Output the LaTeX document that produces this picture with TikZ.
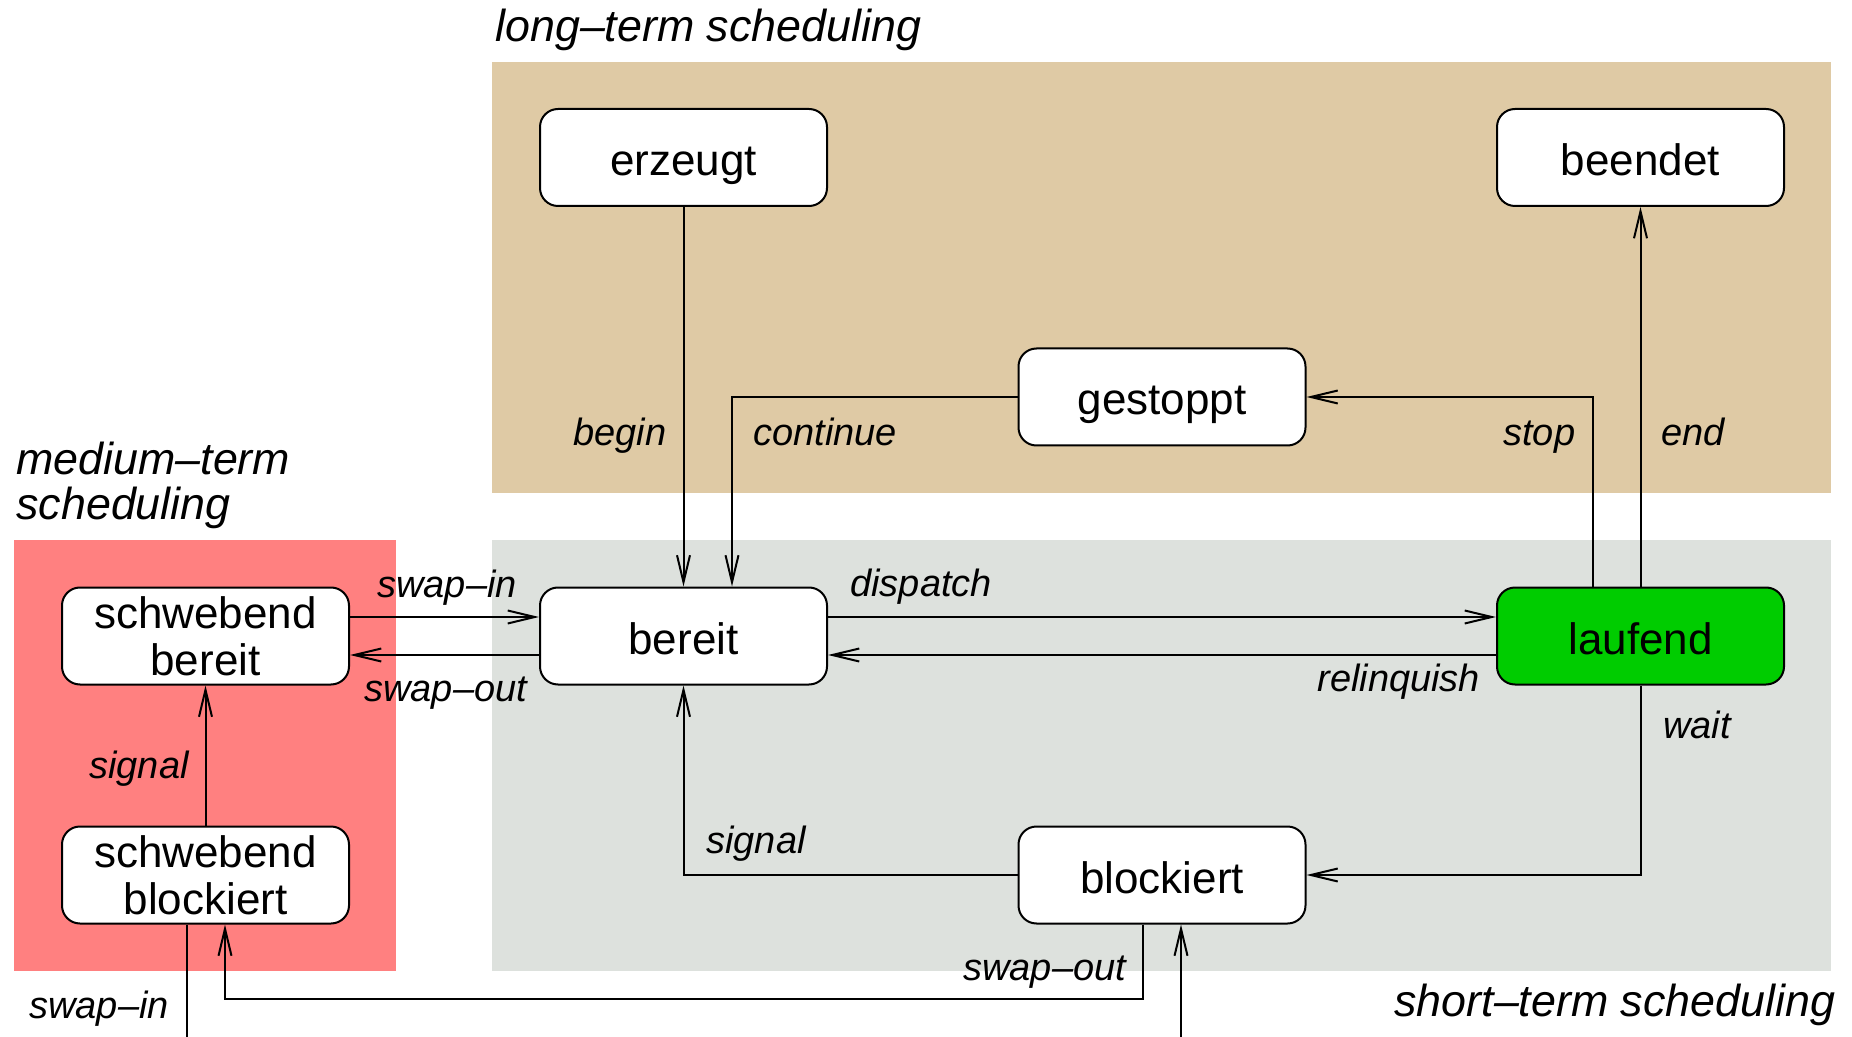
\documentclass[tikz,border=0pt]{standalone}
\usepackage{fontspec}
\setmainfont{Liberation Sans}
\usetikzlibrary{arrows.meta}
\definecolor{tanbg}{RGB}{223,202,165}
\definecolor{greybg}{RGB}{221,225,221}
\definecolor{redbg}{RGB}{255,128,128}
\definecolor{rungreen}{RGB}{0,204,0}
\begin{document}
\begin{tikzpicture}[x=0.5pt,y=-0.5pt,
  state/.style={draw, line width=1pt, rounded corners=9pt, fill=white,
    minimum width=143.5pt, minimum height=48.5pt, inner sep=0pt,
    font=\fontsize{22}{23.5}\selectfont},
  oneline/.style={text height=18pt, text depth=0pt},
  twoline/.style={align=center},
  lbl/.style={font=\fontsize{19}{22}\selectfont\itshape, anchor=base west, inner sep=0pt},
  ttl/.style={font=\fontsize{22.4}{26}\selectfont\itshape, anchor=base west, inner sep=0pt},
  arr/.style={line width=1pt, -{Straight Barb[length=13.5pt,width=6.5pt]}},
  con/.style={line width=1pt}]
\useasboundingbox (0,0) rectangle (1852,1037);
% background zones
\fill[tanbg] (492,62) rectangle (1831,493);
\fill[greybg] (492,540) rectangle (1831,971);
\fill[redbg] (14,540) rectangle (396,971);
% titles
\node[ttl] (tlong) at (495,42) {long–term scheduling};
\node[ttl] (tmed1) at (16,474) {medium–term};
\node[ttl] (tmed2) at (16,519) {scheduling};
\node[ttl] (tshort) at (1394,1016) {short–term scheduling};
% states
\node[state,oneline] (erzeugt) at (683.5,157.5) {erzeugt};
\node[state,oneline] (beendet) at (1640.5,157.5) {beendet};
\node[state,oneline] (gestoppt) at (1162,397) {gestoppt};
\node[state,oneline] (bereit) at (683.5,636) {bereit};
\node[state,oneline,fill=rungreen] (laufend) at (1640.5,636) {laufend};
\node[state,oneline] (blockiert) at (1162,875) {blockiert};
\node[state,twoline] (sb) at (205.5,636) {schwebend\\bereit};
\node[state,twoline] (sbl) at (205.5,875) {schwebend\\blockiert};
% free ends
\coordinate (so2) at (225,999);
\coordinate (outL) at (187,1037);
\coordinate (inR) at (1181,1037);
% connectors
\draw[arr] (erzeugt) -- (bereit);
\draw[arr] (gestoppt.west) -| ([xshift=24.25pt]bereit.north);
\draw[arr] ([xshift=-23.75pt]laufend.north) |- (gestoppt.east);
\draw[arr] (laufend) -- (beendet);
\draw[arr] ([yshift=9.5pt]bereit.east) -- ([yshift=9.5pt]laufend.west);
\draw[arr] ([yshift=-9.5pt]laufend.west) -- ([yshift=-9.5pt]bereit.east);
\draw[arr] ([yshift=9.5pt]sb.east) -- ([yshift=9.5pt]bereit.west);
\draw[arr] ([yshift=-9.5pt]bereit.west) -- ([yshift=-9.5pt]sb.east);
\draw[arr] (laufend.south) |- (blockiert.east);
\draw[arr] (blockiert.west) -| (bereit.south);
\draw[arr] (sbl) -- (sb);
\draw[arr] ([xshift=-9.5pt]blockiert.south) |- (so2) -- (so2 |- sbl.south);
\draw[con] (outL |- sbl.south) -- (outL);
\draw[arr] (inR) -- (inR |- blockiert.south);
% labels
\node[lbl] (lbegin) at (573,445) {begin};
\node[lbl] (lcont) at (753,445) {continue};
\node[lbl] (lstop) at (1503,445) {stop};
\node[lbl] (lend) at (1661,445) {end};
\node[lbl] (lswapin) at (377,597) {swap–in};
\node[lbl] (ldisp) at (850,596) {dispatch};
\node[lbl] (lswapout) at (364,701) {swap–out};
\node[lbl] (lrel) at (1317,691) {relinquish};
\node[lbl] (lwait) at (1663,738) {wait};
\node[lbl] (lsig1) at (89,778) {signal};
\node[lbl] (lsig2) at (706,853) {signal};
\node[lbl] (lswapout2) at (963,980) {swap–out};
\node[lbl] (lswapin2) at (29,1018) {swap–in};
\end{tikzpicture}
\end{document}
